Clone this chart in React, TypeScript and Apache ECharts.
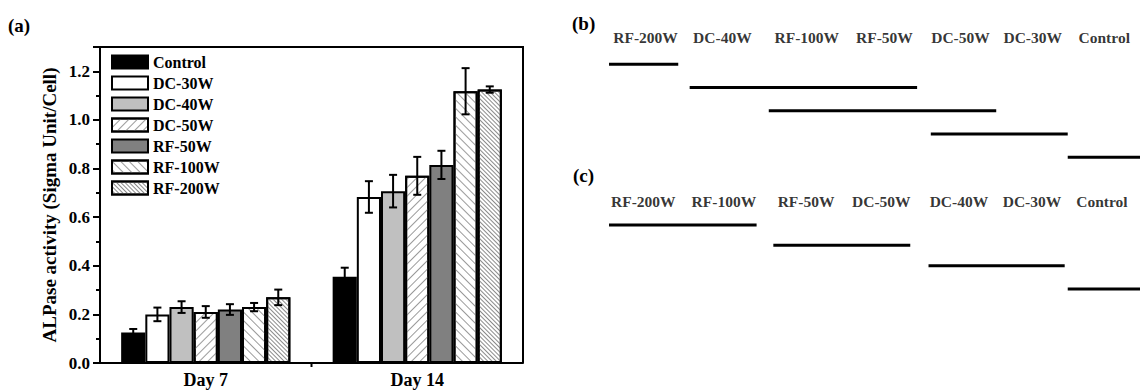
import React, { useEffect, useRef } from "react";
import * as echarts from "echarts";

// ---- Panel (a): ALPase activity ----
const days = ["Day 7", "Day 14"];
const groups = ["Control", "DC-30W", "DC-40W", "DC-50W", "RF-50W", "RF-100W", "RF-200W"];
const day7Values = [0.125, 0.2, 0.23, 0.21, 0.22, 0.23, 0.27];
const day7Errors = [0.015, 0.028, 0.024, 0.024, 0.022, 0.017, 0.032];
const day14Values = [0.355, 0.683, 0.707, 0.77, 0.815, 1.118, 1.125];
const day14Errors = [0.037, 0.065, 0.067, 0.078, 0.058, 0.095, 0.013];
const yMax = 1.3;

// ---- Panel (b): Day 7 grouping ----
const bOrder = ["RF-200W", "DC-40W", "RF-100W", "RF-50W", "DC-50W", "DC-30W", "Control"];
const bOrderSlot = [0, 1.01, 2.12, 3.14, 4.14, 5.09, 6.03];
const bLineStart = [-0.48, 0.58, 1.62, 3.75, 5.55];
const bLineEnd = [0.43, 3.57, 4.61, 5.55, 6.5];
const bLineLevel = [1, 2, 3, 4, 5];

// ---- Panel (c): Day 14 grouping ----
const cOrder = ["RF-200W", "RF-100W", "RF-50W", "DC-50W", "DC-40W", "DC-30W", "Control"];
const cOrderSlot = [-0.03, 1.03, 2.11, 3.1, 4.12, 5.08, 6.0];
const cLineStart = [-0.48, 1.68, 3.72, 5.55];
const cLineEnd = [1.46, 3.48, 5.51, 6.5];
const cLineLevel = [1, 2, 3, 4.15];

const FONT = "'Liberation Serif', 'Times New Roman', serif";

const fills: any[] = [
  { color: "#000000" },
  { color: "#ffffff" },
  { color: "#c0c0c0" },
  {
    color: "#ffffff",
    decal: { symbol: "rect", symbolSize: 1, color: "#9a9a9a", dashArrayX: [1, 0], dashArrayY: [1, 5], rotation: -Math.PI / 4 },
  },
  { color: "#808080" },
  {
    color: "#ffffff",
    decal: { symbol: "rect", symbolSize: 1, color: "#9a9a9a", dashArrayX: [1, 0], dashArrayY: [1, 5], rotation: Math.PI / 4 },
  },
  {
    color: "#ffffff",
    decal: { symbol: "rect", symbolSize: 1, color: "#8a8a8a", dashArrayX: [1, 0], dashArrayY: [1, 2], rotation: Math.PI / 4 },
  },
];

export default function App() {
  const ref = useRef<HTMLDivElement>(null);

  useEffect(() => {
    if (!ref.current) return;
    const chart = echarts.init(ref.current, null, { renderer: "svg" });

    const barSeries = groups.map((name, i) => ({
      name,
      type: "bar",
      xAxisIndex: 0,
      yAxisIndex: 0,
      barGap: "0%",
      barCategoryGap: "20%",
      data: [day7Values[i], day14Values[i]],
      itemStyle: { ...fills[i], borderColor: "#000", borderWidth: 2 },
      emphasis: { disabled: true },
    }));

    const errData: number[][] = [];
    groups.forEach((_, i) => {
      errData.push([0, day7Values[i], day7Errors[i], i]);
      errData.push([1, day14Values[i], day14Errors[i], i]);
    });
    // extra item (group index -1): the top and right sides of the plot box
    errData.push([0, yMax, 0, -1]);

    const st = { stroke: "#000", lineWidth: 2 };

    const errorSeries = {
      type: "custom",
      xAxisIndex: 0,
      yAxisIndex: 0,
      z: 10,
      silent: true,
      clip: false,
      data: errData,
      renderItem: (params: any, api: any) => {
        const c = api.value(0);
        const v = api.value(1);
        const e = api.value(2);
        const s = api.value(3);
        const band = api.size([1, 0])[0];
        if (s < 0) {
          const left = api.coord([0, 0])[0] - band / 2;
          const right = api.coord([days.length - 1, 0])[0] + band / 2;
          const bottom = api.coord([0, 0])[1];
          const top = api.coord([0, v])[1];
          return {
            type: "group",
            children: [
              { type: "line", shape: { x1: left - 1, y1: top, x2: right + 1, y2: top }, style: st },
              { type: "line", shape: { x1: right, y1: top, x2: right, y2: bottom }, style: st },
              { type: "line", shape: { x1: left + band, y1: bottom, x2: left + band, y2: bottom + 4 }, style: st },
            ],
          };
        }
        const bw = (band * 0.8) / groups.length;
        const cx = api.coord([c, v])[0] + (s - (groups.length - 1) / 2) * bw;
        const yt = api.coord([c, v + e])[1];
        const yb = api.coord([c, v - e])[1];
        const cap = 4;
        return {
          type: "group",
          children: [
            { type: "line", shape: { x1: cx, y1: yt, x2: cx, y2: yb }, style: st },
            { type: "line", shape: { x1: cx - cap, y1: yt, x2: cx + cap, y2: yt }, style: st },
            { type: "line", shape: { x1: cx - cap, y1: yb, x2: cx + cap, y2: yb }, style: st },
          ],
        };
      },
    };

    const labelSeries = (order: string[], slots: number[], axis: number) => ({
      type: "scatter",
      xAxisIndex: axis,
      yAxisIndex: axis,
      symbolSize: 1,
      clip: false,
      silent: true,
      itemStyle: { color: "rgba(0,0,0,0)" },
      data: order.map((n, i) => ({ name: n, value: [slots[i], 0] })),
      label: {
        show: true,
        position: "inside",
        formatter: (p: any) => p.name,
        fontFamily: FONT,
        fontWeight: "bold",
        fontSize: 15.5,
        color: "#000",
        offset: [0, -3.5],
      },
    });

    const lineSeries = (starts: number[], ends: number[], levels: number[], axis: number) =>
      starts.map((s, i) => ({
        type: "line",
        xAxisIndex: axis,
        yAxisIndex: axis,
        symbol: "none",
        clip: false,
        silent: true,
        lineStyle: { color: "#000", width: 3 },
        data: [
          [s, levels[i]],
          [ends[i], levels[i]],
        ],
      }));

    const hiddenAxis = (gridIndex: number, min: number, max: number, inverse = false) => ({
      type: "value",
      gridIndex,
      min,
      max,
      inverse,
      show: false,
    });

    const titleStyle = { fontFamily: FONT, fontWeight: "bold" as const, fontSize: 19, color: "#000" };

    chart.setOption({
      animation: false,
      backgroundColor: "#ffffff",
      title: [
        { text: "(a)", left: 8, top: 16, padding: 0, textStyle: titleStyle },
        { text: "(b)", left: 572, top: 14, padding: 0, textStyle: titleStyle },
        { text: "(c)", left: 573, top: 166, padding: 0, textStyle: titleStyle },
      ],
      legend: {
        data: groups,
        orient: "vertical",
        left: 106,
        top: 49,
        icon: "rect",
        itemWidth: 36,
        itemHeight: 13,
        itemGap: 5,
        selectedMode: false,
        textStyle: { fontFamily: FONT, fontWeight: "bold", fontSize: 16, color: "#000", lineHeight: 16 },
      },
      grid: [
        { left: 100, top: 47, right: 617, bottom: 29 },
        { left: 607.5, top: 41, width: 539, height: 116.25 },
        { left: 607.5, top: 204.65, width: 539, height: 101.75 },
      ],
      xAxis: [
        {
          type: "category",
          gridIndex: 0,
          data: days,
          position: "bottom",
          axisLine: { lineStyle: { color: "#000", width: 2 } },
          axisTick: { alignWithLabel: true, length: 7, lineStyle: { color: "#000", width: 2 } },
          axisLabel: { fontFamily: FONT, fontWeight: "bold", fontSize: 18, color: "#000", margin: 8 },
          splitLine: { show: false },
        },
        hiddenAxis(1, -0.5, 6.5),
        hiddenAxis(2, -0.5, 6.5),
      ],
      yAxis: [
        {
          type: "value",
          gridIndex: 0,
          position: "left",
          min: 0,
          max: yMax,
          interval: 0.2,
          name: "ALPase activity (Sigma Unit/Cell)",
          nameLocation: "middle",
          nameGap: 41,
          nameTextStyle: { fontFamily: FONT, fontWeight: "bold", fontSize: 19, color: "#000" },
          axisLine: { show: true, lineStyle: { color: "#000", width: 2 } },
          axisTick: { show: true, length: 7, lineStyle: { color: "#000", width: 2 } },
          minorTick: { show: true, splitNumber: 2, length: 4, lineStyle: { color: "#000", width: 2 } },
          axisLabel: {
            formatter: (v: number) => (v < 1.25 ? v.toFixed(1) : ""),
            fontFamily: FONT,
            fontWeight: "bold",
            fontSize: 17,
            color: "#000",
            margin: 10,
          },
          splitLine: { show: false },
        },
        hiddenAxis(1, 0, 5, true),
        hiddenAxis(2, 0, 5, true),
      ],
      series: [
        ...barSeries,
        errorSeries,
        labelSeries(bOrder, bOrderSlot, 1),
        ...lineSeries(bLineStart, bLineEnd, bLineLevel, 1),
        labelSeries(cOrder, cOrderSlot, 2),
        ...lineSeries(cLineStart, cLineEnd, cLineLevel, 2),
      ],
    });

    return () => chart.dispose();
  }, []);

  return (
    <div
      ref={ref}
      style={{ position: "fixed", left: 0, top: 0, width: 1140, height: 392, background: "#fff" }}
    />
  );
}
